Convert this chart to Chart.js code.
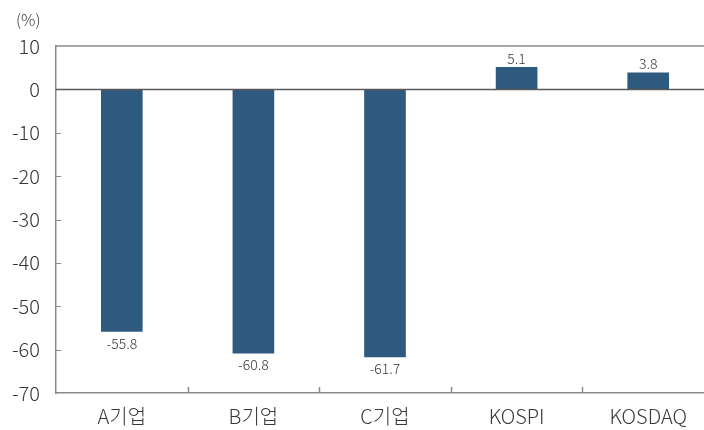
<!DOCTYPE html>
<html>
<head>
<meta charset="utf-8">
<script src="https://cdn.jsdelivr.net/npm/chart.js@4"></script>
<style>
  html, body { margin: 0; padding: 0; background: #fff; overflow: hidden; }
  #wrap { width: 714px; height: 430px; }
</style>
</head>
<body>
<div id="wrap"><canvas id="c" width="714" height="430"></canvas></div>
<script>
// Return by company vs. market index (%)
const categories = ['A기업', 'B기업', 'C기업', 'KOSPI', 'KOSDAQ'];
const returns = [-55.8, -60.8, -61.7, 5.1, 3.8];
const yTicks = [10, 0, -10, -20, -30, -40, -50, -60, -70];
const unitLabel = '(%)';

const FONT = "'Noto Sans CJK KR', 'Noto Sans', sans-serif";
const TEXT = '#383838';
const AXIS = '#8a8a8a';

// Frame, zero line, inward tick marks, value labels and unit label
const decorations = {
  id: 'decorations',
  afterDatasetsDraw(chart) {
    const { ctx, chartArea: a, scales: { x, y } } = chart;
    ctx.save();

    // top frame line
    ctx.strokeStyle = AXIS;
    ctx.lineWidth = 1.5;
    ctx.beginPath();
    ctx.moveTo(a.left, y.getPixelForValue(10));
    ctx.lineTo(a.right, y.getPixelForValue(10));
    ctx.stroke();

    // inward y ticks
    ctx.lineWidth = 1;
    yTicks.forEach(v => {
      if (v === 10 || v === 0 || v === -70) return;
      const py = Math.round(y.getPixelForValue(v)) + 0.5;
      ctx.beginPath();
      ctx.moveTo(a.left, py);
      ctx.lineTo(a.left + 5, py);
      ctx.stroke();
    });

    // inward x ticks at category boundaries
    for (let i = 1; i < categories.length; i++) {
      const px = Math.round((x.getPixelForValue(i - 1) + x.getPixelForValue(i)) / 2) + 0.5;
      ctx.lineWidth = 1.5;
      ctx.beginPath();
      ctx.moveTo(px, a.bottom);
      ctx.lineTo(px, a.bottom - 6);
      ctx.stroke();
    }

    // zero line
    ctx.strokeStyle = '#5a5a5a';
    ctx.lineWidth = 1.5;
    const zy = y.getPixelForValue(0);
    ctx.beginPath();
    ctx.moveTo(a.left, zy);
    ctx.lineTo(a.right, zy);
    ctx.stroke();

    // value labels
    ctx.fillStyle = TEXT;
    ctx.font = `300 14px ${FONT}`;
    ctx.textAlign = 'center';
    const meta = chart.getDatasetMeta(0);
    meta.data.forEach((bar, i) => {
      const v = returns[i];
      if (v >= 0) {
        ctx.textBaseline = 'bottom';
        ctx.fillText(v.toFixed(1), bar.x, bar.y - 2);
      } else {
        ctx.textBaseline = 'top';
        ctx.fillText(v.toFixed(1), bar.x, bar.y + 5);
      }
    });

    // unit label
    ctx.font = `300 16px ${FONT}`;
    ctx.textAlign = 'left';
    ctx.textBaseline = 'middle';
    ctx.fillText(unitLabel, 16, 20);

    ctx.restore();
  }
};

new Chart(document.getElementById('c'), {
  type: 'bar',
  data: {
    labels: categories,
    datasets: [{
      data: returns,
      backgroundColor: '#2E5A7F',
      borderWidth: 0,
      barThickness: 41
    }]
  },
  options: {
    responsive: false,
    animation: false,
    layout: { padding: { top: 46, right: 0, bottom: 0, left: 0 } },
    plugins: { legend: { display: false }, tooltip: { enabled: false } },
    scales: {
      x: {
        grid: { display: false, drawTicks: false },
        border: { display: true, color: AXIS, width: 1.5 },
        ticks: { color: TEXT, font: { family: FONT, size: 20, weight: 300 }, padding: 11 },
        afterFit(s) { s.height = 37; }
      },
      y: {
        min: -70,
        max: 10,
        afterBuildTicks(s) { s.ticks = yTicks.map(v => ({ value: v })); },
        grid: { display: false, drawTicks: false },
        border: { display: true, color: AXIS, width: 1.5 },
        ticks: { color: TEXT, font: { family: FONT, size: 20, weight: 300 }, padding: 16 },
        afterFit(s) { s.width = 56; }
      }
    }
  },
  plugins: [decorations]
});
</script>
</body>
</html>
